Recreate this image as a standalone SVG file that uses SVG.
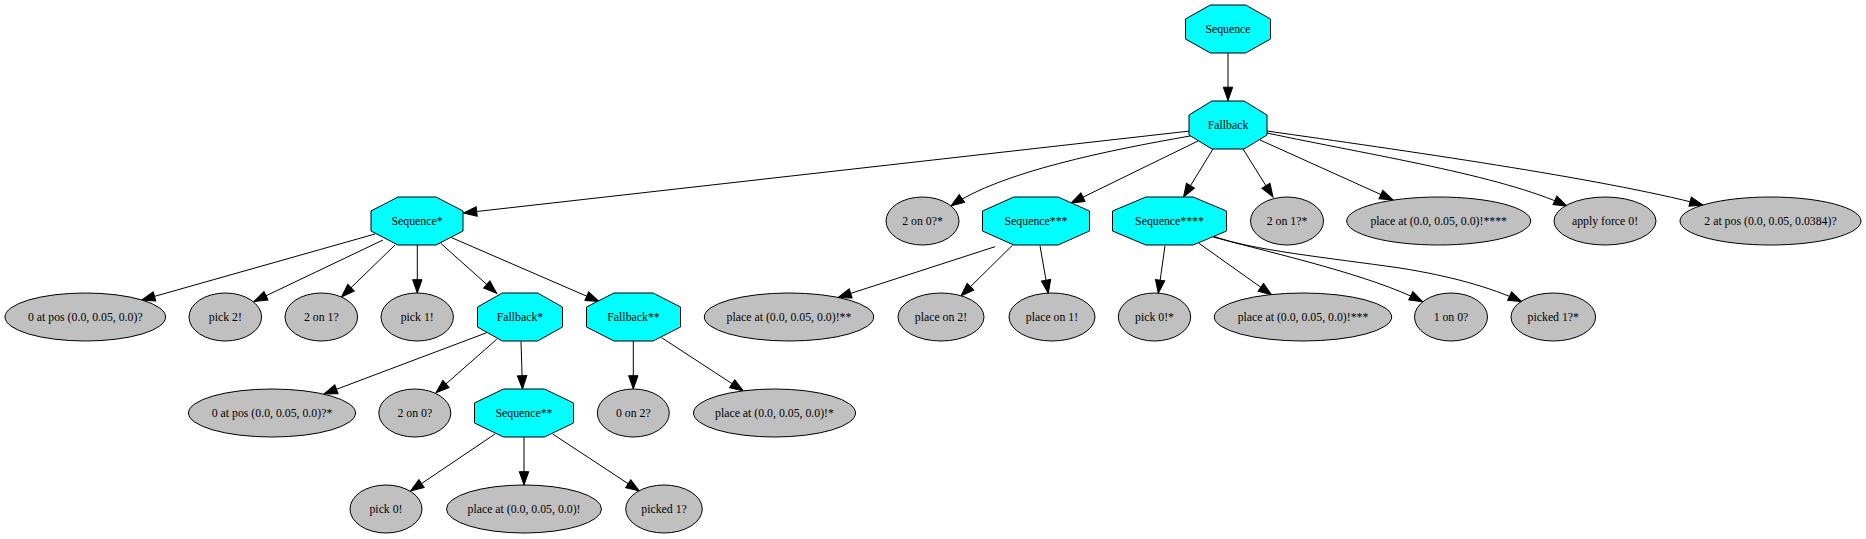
<svg xmlns="http://www.w3.org/2000/svg" width="1866" height="539" viewBox="0 0 1866 539">
<style>
.oct{fill:#00ffff;stroke:#000;stroke-width:1}
.ell{fill:#c0c0c0;stroke:#000;stroke-width:1}
text{font-family:"Liberation Serif","Times New Roman",serif;font-size:11.8px;text-anchor:middle;fill:#000}
.e{fill:none;stroke:#000;stroke-width:1;marker-end:url(#ah)}
</style>
<defs>
<marker id="ah" markerUnits="userSpaceOnUse" markerWidth="14" markerHeight="10" refX="13.3" refY="5" orient="auto" overflow="visible">
<path d="M0,0.3 L13.3,5 L0,9.7 z" fill="#000" stroke="#000" stroke-width="1"/>
</marker>
</defs>
<rect width="1866" height="539" fill="#fff"/>
<g id="edges">
<path class="e" d="M1228,53 L1228,100.5"/>
<path class="e" d="M1190,131 L463.5,213"/>
<path class="e" d="M1190,136 C1110,150 1000,172 951,206"/>
<path class="e" d="M1198,141 L1071,203"/>
<path class="e" d="M1213,149 L1183.5,197"/>
<path class="e" d="M1243,149 L1273,197"/>
<path class="e" d="M1260,140 L1393,200"/>
<path class="e" d="M1267,133 C1370,155 1500,175 1567,206"/>
<path class="e" d="M1267,131 C1400,150 1600,178 1703,205"/>
<path class="e" d="M375,234 L141.7,300"/>
<path class="e" d="M383,240 L254,301.5"/>
<path class="e" d="M395,245 L341.5,297"/>
<path class="e" d="M417.3,245 L417.3,293"/>
<path class="e" d="M440.7,243.3 L496.7,293.3"/>
<path class="e" d="M451.7,237.7 L599,301.5"/>
<path class="e" d="M486.7,332.7 L324,394"/>
<path class="e" d="M496.7,339.3 L436,392.7"/>
<path class="e" d="M521,341.5 L522.5,389"/>
<path class="e" d="M633.3,341 L633.3,389"/>
<path class="e" d="M661.7,337.7 L743.3,391"/>
<path class="e" d="M495,434 L410.5,491"/>
<path class="e" d="M524,437 L524,485"/>
<path class="e" d="M552.7,434 L639.3,491"/>
<path class="e" d="M995,246.7 L838,297.5"/>
<path class="e" d="M1012.7,245 L961,296"/>
<path class="e" d="M1040,245.7 L1048.3,293.3"/>
<path class="e" d="M1165,245.7 L1158.3,293.3"/>
<path class="e" d="M1199,243.3 L1271.7,295"/>
<path class="e" d="M1213,237 C1280,255 1370,275 1422.7,301.7"/>
<path class="e" d="M1213,236 C1250,250 1330,258 1400,268 C1450,276 1490,287 1521.7,301.7"/>
</g>
<g id="n_sequence"><polygon class="oct" points="1210.4,5 1245.6,5 1270.5,19 1270.5,39 1245.6,53 1210.4,53 1185.5,39 1185.5,19"/><text x="1228" y="33">Sequence</text></g>
<g id="n_fallback"><polygon class="oct" points="1211.9,101 1244.1,101 1267,115 1267,135 1244.1,149 1211.9,149 1189,135 1189,115"/><text x="1228" y="129">Fallback</text></g>
<g id="n_sequence1"><polygon class="oct" points="398,197 436,197 463,211 463,231 436,245 398,245 371,231 371,211"/><text x="417" y="225">Sequence*</text></g>
<g id="n_sequence3"><polygon class="oct" points="1013.9,197 1058.1,197 1089.5,211 1089.5,231 1058.1,245 1013.9,245 982.5,231 982.5,211"/><text x="1036" y="225">Sequence***</text></g>
<g id="n_sequence4"><polygon class="oct" points="1145.9,197 1193.1,197 1226.5,211 1226.5,231 1193.1,245 1145.9,245 1112.5,231 1112.5,211"/><text x="1169.5" y="225">Sequence****</text></g>
<g id="n_fallback1"><polygon class="oct" points="502.4,293 537.6,293 562.5,307 562.5,327 537.6,341 502.4,341 477.5,327 477.5,307"/><text x="520" y="321">Fallback*</text></g>
<g id="n_fallback2"><polygon class="oct" points="614,293 653,293 680.5,307 680.5,327 653,341 614,341 586.5,327 586.5,307"/><text x="633.5" y="321">Fallback**</text></g>
<g id="n_sequence2"><polygon class="oct" points="503.5,389 544.5,389 573.5,403 573.5,423 544.5,437 503.5,437 474.5,423 474.5,403"/><text x="524" y="417">Sequence**</text></g>
<g id="n_2on0s"><ellipse class="ell" cx="922.5" cy="221" rx="36.5" ry="24"/><text x="922.5" y="225">2 on 0?*</text></g>
<g id="n_2on1s"><ellipse class="ell" cx="1287" cy="221" rx="36.5" ry="24"/><text x="1287" y="225">2 on 1?*</text></g>
<g id="n_place4"><ellipse class="ell" cx="1438.7" cy="221" rx="92" ry="24"/><text x="1438.7" y="225">place at (0.0, 0.05, 0.0)!****</text></g>
<g id="n_force"><ellipse class="ell" cx="1605" cy="221" rx="51" ry="24"/><text x="1605" y="225">apply force 0!</text></g>
<g id="n_2atpos"><ellipse class="ell" cx="1770.5" cy="221" rx="90.5" ry="24"/><text x="1770.5" y="225">2 at pos (0.0, 0.05, 0.0384)?</text></g>
<g id="n_0atpos"><ellipse class="ell" cx="85.3" cy="317" rx="80.3" ry="24"/><text x="85.3" y="321">0 at pos (0.0, 0.05, 0.0)?</text></g>
<g id="n_pick2"><ellipse class="ell" cx="225.3" cy="317" rx="36.3" ry="24"/><text x="225.3" y="321">pick 2!</text></g>
<g id="n_2on1"><ellipse class="ell" cx="321.3" cy="317" rx="36.3" ry="24"/><text x="321.3" y="321">2 on 1?</text></g>
<g id="n_pick1"><ellipse class="ell" cx="417.2" cy="317" rx="36.2" ry="24"/><text x="417.2" y="321">pick 1!</text></g>
<g id="n_place2"><ellipse class="ell" cx="789" cy="317" rx="84.7" ry="24"/><text x="789" y="321">place at (0.0, 0.05, 0.0)!**</text></g>
<g id="n_placeon2"><ellipse class="ell" cx="941" cy="317" rx="43" ry="24"/><text x="941" y="321">place on 2!</text></g>
<g id="n_placeon1"><ellipse class="ell" cx="1052" cy="317" rx="43" ry="24"/><text x="1052" y="321">place on 1!</text></g>
<g id="n_pick0s"><ellipse class="ell" cx="1154.5" cy="317" rx="36.2" ry="24"/><text x="1154.5" y="321">pick 0!*</text></g>
<g id="n_place3"><ellipse class="ell" cx="1303" cy="317" rx="88.7" ry="24"/><text x="1303" y="321">place at (0.0, 0.05, 0.0)!***</text></g>
<g id="n_1on0"><ellipse class="ell" cx="1451" cy="317" rx="36.5" ry="24"/><text x="1451" y="321">1 on 0?</text></g>
<g id="n_picked1s"><ellipse class="ell" cx="1553.3" cy="317" rx="42.3" ry="24"/><text x="1553.3" y="321">picked 1?*</text></g>
<g id="n_0atposs"><ellipse class="ell" cx="272" cy="413" rx="83.5" ry="24"/><text x="272" y="417">0 at pos (0.0, 0.05, 0.0)?*</text></g>
<g id="n_2on0"><ellipse class="ell" cx="414.8" cy="413" rx="36" ry="24"/><text x="414.8" y="417">2 on 0?</text></g>
<g id="n_0on2"><ellipse class="ell" cx="633.3" cy="413" rx="36" ry="24"/><text x="633.3" y="417">0 on 2?</text></g>
<g id="n_place1"><ellipse class="ell" cx="774.5" cy="413" rx="81" ry="24"/><text x="774.5" y="417">place at (0.0, 0.05, 0.0)!*</text></g>
<g id="n_pick0"><ellipse class="ell" cx="386" cy="509" rx="36" ry="24"/><text x="386" y="513">pick 0!</text></g>
<g id="n_place0"><ellipse class="ell" cx="524" cy="509" rx="77.5" ry="24"/><text x="524" y="513">place at (0.0, 0.05, 0.0)!</text></g>
<g id="n_picked1"><ellipse class="ell" cx="664" cy="509" rx="38.3" ry="24"/><text x="664" y="513">picked 1?</text></g>
</svg>
